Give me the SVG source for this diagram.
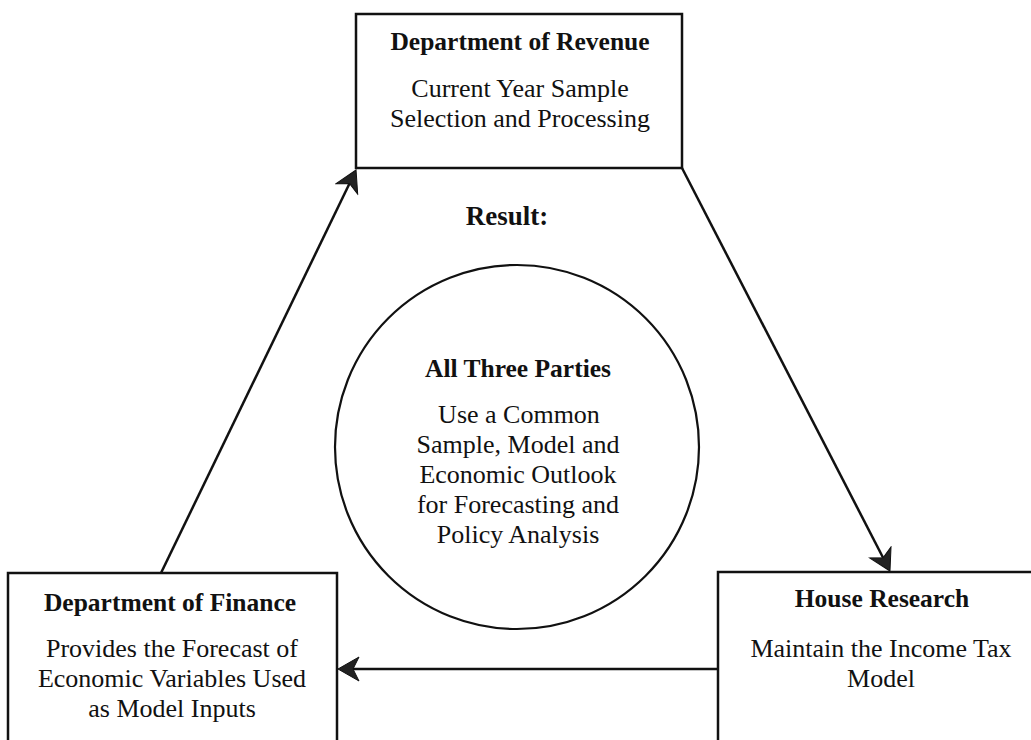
<svg xmlns="http://www.w3.org/2000/svg" width="1031" height="740" viewBox="0 0 1031 740">
  <style>
    .box { fill: #ffffff; stroke: #111111; stroke-width: 2.5; }
    .ring { fill: #ffffff; stroke: #111111; stroke-width: 2.2; }
    .link { fill: none; stroke: #111111; stroke-width: 2.5; marker-end: url(#head); }
    text { font-family: "Liberation Serif", "Times New Roman", serif; fill: #111111; text-anchor: middle; }
    .title { font-size: 25.5px; font-weight: bold; }
    .body { font-size: 26px; }
    .result { font-size: 27px; font-weight: bold; }
  </style>
  <defs>
    <!-- notched arrowhead; reference point sits at the notch, tip is 15px ahead -->
    <marker id="head" markerUnits="userSpaceOnUse" viewBox="-8 -13 25 26" markerWidth="25" markerHeight="26" refX="0" refY="0" orient="auto">
      <path d="M15,0 L-6,-12 L0,0 L-6,12 Z" fill="#222222" stroke="#111111" stroke-width="1"/>
    </marker>
  </defs>

  <rect width="1031" height="740" fill="#ffffff"/>

  <!-- connectors -->
  <g id="connectors">
    <line class="link" x1="161" y1="573" x2="349.5" y2="183.5"/>
    <line class="link" x1="682" y1="168" x2="883.1" y2="557.7"/>
    <line class="link" x1="718" y1="669" x2="353" y2="669"/>
  </g>

  <g id="revenue">
    <rect class="box" x="356" y="14" width="326" height="154"/>
    <text class="title" x="520" y="50">Department of Revenue</text>
    <text class="body" x="520" y="97">Current Year Sample</text>
    <text class="body" x="520" y="127">Selection and Processing</text>
  </g>

  <g id="result-label">
    <text class="result" x="507" y="225">Result:</text>
  </g>

  <g id="all-parties">
    <ellipse class="ring" cx="517" cy="447" rx="182" ry="182"/>
    <text class="title" x="518" y="377">All Three Parties</text>
    <text class="body" x="519" y="423">Use a Common</text>
    <text class="body" x="518" y="453">Sample, Model and</text>
    <text class="body" x="518" y="483">Economic Outlook</text>
    <text class="body" x="518" y="513">for Forecasting and</text>
    <text class="body" x="518" y="543">Policy Analysis</text>
  </g>

  <g id="finance">
    <rect class="box" x="8" y="573" width="329" height="200"/>
    <text class="title" x="170" y="611">Department of Finance</text>
    <text class="body" x="172" y="657">Provides the Forecast of</text>
    <text class="body" x="172" y="687">Economic Variables Used</text>
    <text class="body" x="172" y="717">as Model Inputs</text>
  </g>

  <g id="house-research">
    <rect class="box" x="718" y="572" width="340" height="200"/>
    <text class="title" x="882" y="607">House Research</text>
    <text class="body" x="881" y="657">Maintain the Income Tax</text>
    <text class="body" x="881" y="687">Model</text>
  </g>
</svg>
